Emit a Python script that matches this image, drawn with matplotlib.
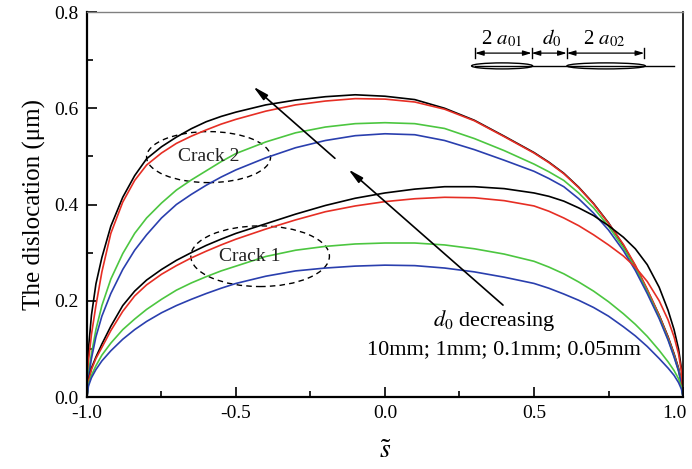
import matplotlib
matplotlib.use("Agg")
import matplotlib.pyplot as plt
from matplotlib.patches import Ellipse
from matplotlib.transforms import ScaledTranslation

plt.rcParams['font.family'] = ['Liberation Serif', 'DejaVu Serif']
plt.rcParams['mathtext.fontset'] = 'stix'

# normalised position along the crack
s = [-1.0, -0.995, -0.985, -0.97, -0.95, -0.92, -0.88, -0.84, -0.8, -0.75, -0.7, -0.65,
     -0.6, -0.55, -0.5, -0.4, -0.3, -0.2, -0.1, 0.0, 0.1, 0.2, 0.3, 0.4,
     0.5, 0.55, 0.6, 0.65, 0.7, 0.75, 0.8, 0.84, 0.88, 0.92, 0.95, 0.97,
     0.985, 0.995, 1.0]

# crack 2 (upper group): d0 = 0.05mm (black), 0.1mm (red), 1mm (green), 10mm (blue)
up_black = [0, 0.10, 0.17, 0.235, 0.29, 0.355, 0.415, 0.46, 0.495, 0.52, 0.54, 0.5575,
            0.572, 0.583, 0.592, 0.607, 0.617, 0.624, 0.628, 0.625, 0.618, 0.600, 0.575, 0.542,
            0.508, 0.488, 0.465, 0.436, 0.402, 0.362, 0.315, 0.272, 0.222, 0.17, 0.125, 0.09,
            0.06, 0.03, 0]
up_red = [0, 0.075, 0.13, 0.19, 0.26, 0.34, 0.405, 0.45, 0.482, 0.507, 0.527, 0.542,
          0.555, 0.567, 0.577, 0.594, 0.607, 0.615, 0.620, 0.619, 0.613, 0.598, 0.574, 0.541,
          0.507, 0.487, 0.464, 0.435, 0.401, 0.361, 0.317, 0.274, 0.224, 0.17, 0.124, 0.089,
          0.058, 0.029, 0]
up_green = [0, 0.05, 0.09, 0.14, 0.19, 0.245, 0.298, 0.34, 0.372, 0.403, 0.43, 0.451,
            0.47, 0.489, 0.506, 0.530, 0.549, 0.561, 0.568, 0.570, 0.568, 0.558, 0.537, 0.512,
            0.484, 0.468, 0.450, 0.424, 0.393, 0.355, 0.31, 0.268, 0.219, 0.166, 0.12, 0.085,
            0.055, 0.027, 0]
up_blue = [0, 0.04, 0.08, 0.125, 0.168, 0.215, 0.265, 0.305, 0.337, 0.372, 0.40, 0.421,
           0.44, 0.457, 0.472, 0.497, 0.518, 0.533, 0.543, 0.547, 0.545, 0.533, 0.514, 0.492,
           0.469, 0.454, 0.437, 0.412, 0.382, 0.347, 0.304, 0.263, 0.215, 0.163, 0.118, 0.083,
           0.054, 0.026, 0]

# crack 1 (lower group)
lo_black = [0, 0.035, 0.06, 0.083, 0.11, 0.147, 0.19, 0.22, 0.243, 0.265, 0.284, 0.300,
            0.315, 0.328, 0.340, 0.36, 0.38, 0.398, 0.413, 0.424, 0.432, 0.437, 0.437, 0.433,
            0.424, 0.417, 0.407, 0.393, 0.377, 0.356, 0.332, 0.308, 0.275, 0.228, 0.18, 0.14,
            0.1, 0.058, 0]
lo_red = [0, 0.033, 0.057, 0.08, 0.103, 0.138, 0.178, 0.21, 0.233, 0.255, 0.273, 0.289,
          0.303, 0.316, 0.328, 0.349, 0.368, 0.385, 0.397, 0.406, 0.412, 0.415, 0.414, 0.408,
          0.397, 0.386, 0.372, 0.356, 0.337, 0.316, 0.293, 0.27, 0.24, 0.2, 0.16, 0.125,
          0.09, 0.052, 0]
lo_green = [0, 0.027, 0.045, 0.065, 0.087, 0.112, 0.14, 0.162, 0.182, 0.203, 0.222, 0.237,
            0.25, 0.262, 0.272, 0.292, 0.305, 0.313, 0.318, 0.320, 0.320, 0.316, 0.308, 0.297,
            0.282, 0.270, 0.256, 0.239, 0.22, 0.198, 0.173, 0.151, 0.126, 0.097, 0.073, 0.055,
            0.038, 0.02, 0]
lo_blue = [0, 0.023, 0.04, 0.057, 0.075, 0.096, 0.12, 0.14, 0.157, 0.175, 0.19, 0.203,
           0.215, 0.226, 0.236, 0.251, 0.262, 0.268, 0.272, 0.274, 0.273, 0.268, 0.260, 0.249,
           0.236, 0.226, 0.214, 0.201, 0.186, 0.168, 0.146, 0.127, 0.105, 0.08, 0.06, 0.045,
           0.03, 0.016, 0]

colors = ['#000000', '#e62e24', '#4cc640', '#2a3fae']
xticks = [-1.0, -0.5, 0.0, 0.5, 1.0]
yticks = [0.0, 0.2, 0.4, 0.6, 0.8]

fig = plt.figure(figsize=(6.92, 4.69), dpi=100)
ax = fig.add_axes([0.1257, 0.1535, 0.8613, 0.8209])

for ys, c in zip([up_black, up_red, up_green, up_blue], colors):
    ax.plot(s, ys, color=c, lw=1.2)
for ys, c in zip([lo_black, lo_red, lo_green, lo_blue], colors):
    ax.plot(s, ys, color=c, lw=1.2)

ax.set_xlim(-1, 1)
ax.set_ylim(0, 0.8)
ax.set_xticks(xticks)
ax.set_xticks([-0.75, -0.25, 0.25, 0.75], minor=True)
ax.set_yticks(yticks)
ax.set_yticks([0.1, 0.3, 0.5, 0.7], minor=True)
ax.set_xticklabels(['%.1f' % v for v in xticks])
ax.set_yticklabels(['%.1f' % v for v in yticks])
ax.tick_params(which='both', direction='in', top=False, right=False,
               labelsize=14, width=1.2, pad=6)
ax.tick_params(which='major', length=7)
ax.tick_params(which='minor', length=4)
# last x label sits pulled in from the figure edge
last = ax.get_xticklabels()[-1]
last.set_transform(last.get_transform() + ScaledTranslation(-6 / 72, 0, fig.dpi_scale_trans))

for sp in ['left', 'bottom']:
    ax.spines[sp].set_linewidth(1.6)
ax.spines['right'].set_linewidth(1.2)
ax.spines['top'].set_linewidth(1.0)
ax.spines['top'].set_color('#808080')

ax.set_ylabel('The dislocation (\u03bcm)', fontsize=18, labelpad=6)
ax.set_xlabel(r'$\tilde{s}$', fontsize=20, labelpad=12)

# dashed ellipses marking the two cracks
ax.add_patch(Ellipse((-0.592, 0.4985), 0.416, 0.106, fill=False, ls=(0, (4, 3)), lw=1.0, color='k'))
ax.add_patch(Ellipse((-0.419, 0.2925), 0.465, 0.126, fill=False, ls=(0, (4, 3)), lw=1.0, color='k'))
ax.text(-0.59, 0.500, 'Crack 2', fontsize=14, ha='center', va='center', color='#222222')
ax.text(-0.453, 0.292, 'Crack 1', fontsize=14, ha='center', va='center', color='#222222')

# d0 decreasing arrows
arrow_kw = dict(arrowstyle='-|>,head_length=0.9,head_width=0.2', color='k', lw=1.2,
                shrinkA=0, shrinkB=0)
ax.annotate('', xy=(-0.442, 0.645), xytext=(-0.168, 0.496), arrowprops=arrow_kw)
ax.annotate('', xy=(-0.123, 0.473), xytext=(0.396, 0.191), arrowprops=arrow_kw)
ax.text(0.3675, 0.160, r'$d_0$ decreasing', fontsize=16, ha='center', va='center')
ax.text(0.399, 0.098, '10mm; 1mm; 0.1mm; 0.05mm', fontsize=16, ha='center', va='center')

# sketch of the two cracks, top right
ax.plot([0.302, 0.970], [0.688, 0.688], color='k', lw=1.0)
ax.add_patch(Ellipse((0.393, 0.688), 0.205, 0.0125, fill=False, lw=1.0, color='k'))
ax.add_patch(Ellipse((0.742, 0.688), 0.263, 0.0125, fill=False, lw=1.0, color='k'))
bar_s = [0.302, 0.492, 0.610, 0.870]
for b in bar_s:
    ax.plot([b, b], [0.704, 0.726], color='k', lw=1.0)
dbl_kw = dict(arrowstyle='<|-|>,head_length=0.5,head_width=0.15', color='k', lw=0.9,
              shrinkA=0, shrinkB=0)
for a, b in zip(bar_s[:-1], bar_s[1:]):
    ax.annotate('', xy=(a, 0.7146), xytext=(b, 0.7146), arrowprops=dbl_kw)
ax.text(0.392, 0.745, r'2 $a_{\mathrm{01}}$', fontsize=15, ha='center', va='center')
ax.text(0.558, 0.745, r'$d_{\mathrm{0}}$', fontsize=15, ha='center', va='center')
ax.text(0.735, 0.745, r'2 $a_{\mathrm{02}}$', fontsize=15, ha='center', va='center')

fig.savefig('out.png', dpi=100)
